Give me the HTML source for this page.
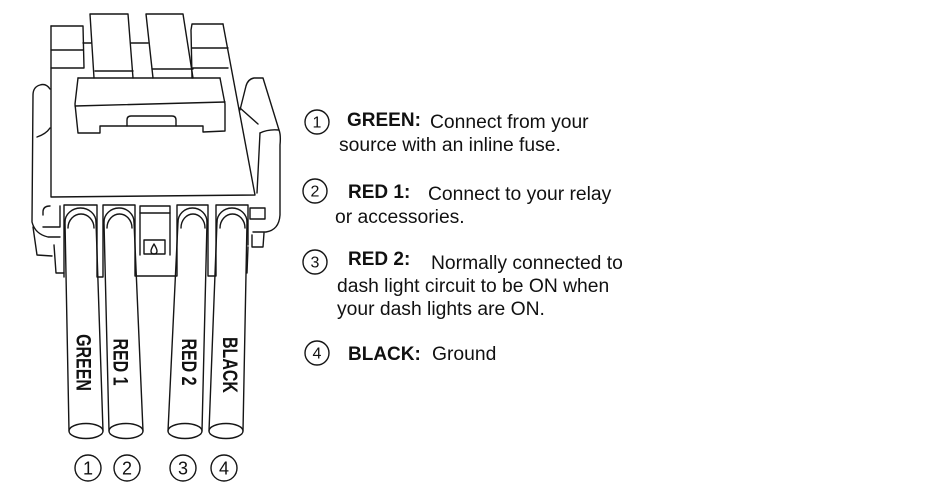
<!DOCTYPE html>
<html>
<head>
<meta charset="utf-8">
<style>
  html,body{margin:0;padding:0;background:#fff;}
  svg{display:block;}
  text{font-family:"Liberation Sans",Arial,sans-serif;fill:#111;}
  .b{font-weight:bold;}
</style>
</head>
<body>
<svg width="950" height="500" viewBox="0 0 950 500" xmlns="http://www.w3.org/2000/svg">
  <rect width="950" height="500" fill="#fff"/>
  <g fill="none" stroke="#151515" stroke-width="1.4" stroke-linejoin="round" stroke-linecap="round">
    <!-- left top box -->
    <path d="M51,26 L83,26 L84,68 L51,68"/>
    <path d="M51,50 L83,50"/>
    <path d="M83,43 L91,43"/>
    <!-- tab 1 -->
    <path d="M94,78 L90,14 L128,14 L133,78"/>
    <path d="M95,71 L133,71"/>
    <path d="M131,43 L148,43"/>
    <!-- tab 2 -->
    <path d="M153,78 L146,14 L183,14 L193,78"/>
    <path d="M152,69 L193,69"/>
    <!-- right top box -->
    <path d="M192,78 L191,30 L192,24 L223,24"/>
    <path d="M192,48 L228,48"/>
    <path d="M193,68 L228,68"/>
    <!-- body -->
    <path d="M51,26 L51,197 L255,195 L223,24"/>
    <!-- lid -->
    <path d="M78,78 L220,78"/>
    <path d="M78,78 L75,104 L78,133 L100,133 L100,126 L203,126 L203,132 L225,131 L225,104 L220,78"/>
    <path d="M75,106 L225,102"/>
    <path d="M127,126 L127,120 Q127,116 131,116 L172,116 Q176,116 176,120 L176,126"/>
    <!-- left bracket -->
    <path d="M50,89 Q46,83 40,85 Q33,87 33,95 L32,222 Q35,234 48,237 L60,237"/>
    <path d="M37,137 Q46,134 50,128"/>
    <path d="M33,227 L37,255 L52,256"/>
    <path d="M54,245 L56,273 L64,273"/>
    <path d="M50,206 Q43,206 43,212 L43,215"/>
    <path d="M43,227 L60,227 L60,206"/>
    <!-- right bracket -->
    <path d="M240,110 L246,86 Q248,79 254,78 L263,78 L279,130 Q281,135 280,145 L280,215 Q279,230 266,232 L253,232"/>
    <path d="M240,108 L258,124"/>
    <path d="M260,133 Q268,129 279,130"/>
    <path d="M260,133 L257,193"/>
    <rect x="250" y="208" width="15" height="11"/>
    <path d="M252,235 L252,247 L263,247 L264,233"/>
    <path d="M248,247 L247,273"/>
    <!-- slots -->
    <path d="M64,277 L64,205 L97,205 L97,277 L103,277 L103,205 L135,205 L135,276 L177,276 L177,205 L208,205 L208,276 L216,276 L216,205 L248,205 L248,245"/>
    <!-- middle slot -->
    <path d="M140,255 L140,206 L170,206 L170,255"/>
    <path d="M140,213 L170,213"/>
    <rect x="144" y="240" width="21" height="14"/>
    <path d="M154,244 Q151,249 151,251 Q151,254 154,254 Q157,254 157,251 Q157,249 154,244 Z"/>
    <!-- wire arches -->
    <path d="M65,222 A15.5,14 0 0 1 96,222"/>
    <path d="M68,228 A13,14 0 0 1 94,228"/>
    <path d="M104,222 A15,14 0 0 1 134,222"/>
    <path d="M107,228 A12.5,14 0 0 1 132,228"/>
    <path d="M178,222 A14.5,14 0 0 1 207,222"/>
    <path d="M181,228 A12,14 0 0 1 205,228"/>
    <path d="M217,222 A15,14 0 0 1 247,222"/>
    <path d="M220,228 A12.5,14 0 0 1 245,228"/>
    <!-- wires -->
    <path d="M65,222 L69,431"/>
    <path d="M96,222 L103,431"/>
    <path d="M104,222 L109,431"/>
    <path d="M134,222 L143,431"/>
    <path d="M178,222 L168,431"/>
    <path d="M207,222 L202,431"/>
    <path d="M217,222 L209,431"/>
    <path d="M247,222 L243,431"/>
    <ellipse cx="86" cy="431" rx="17" ry="7.5"/>
    <ellipse cx="126" cy="431" rx="17" ry="7.5"/>
    <ellipse cx="185" cy="431" rx="17" ry="7.5"/>
    <ellipse cx="226" cy="431" rx="17" ry="7.5"/>
    <!-- bottom circles -->
    <circle cx="88" cy="468" r="13"/>
    <circle cx="127" cy="468" r="13"/>
    <circle cx="183" cy="468" r="13"/>
    <circle cx="224" cy="468" r="13"/>
    <!-- right circles -->
    <circle cx="317" cy="122" r="12"/>
    <circle cx="315" cy="191" r="12"/>
    <circle cx="315" cy="262" r="12"/>
    <circle cx="317" cy="353" r="12"/>
  </g>

  <!-- wire labels -->
  <text class="b" font-size="16" text-anchor="middle" transform="translate(76.5,362.5) scale(1.35,1) rotate(90)">GREEN</text>
  <text class="b" font-size="16" text-anchor="middle" transform="translate(113.5,362) scale(1.35,1) rotate(90)">RED 1</text>
  <text class="b" font-size="16" text-anchor="middle" transform="translate(182,362) scale(1.35,1) rotate(90)">RED 2</text>
  <text class="b" font-size="16" text-anchor="middle" transform="translate(223,365) scale(1.35,1) rotate(90)">BLACK</text>

  <!-- bottom circle numbers -->
  <text font-size="18" text-anchor="middle" x="88" y="474.5">1</text>
  <text font-size="18" text-anchor="middle" x="127" y="474.5">2</text>
  <text font-size="18" text-anchor="middle" x="183" y="474.5">3</text>
  <text font-size="18" text-anchor="middle" x="224" y="474.5">4</text>

  <!-- right circle numbers -->
  <text font-size="16" text-anchor="middle" x="317" y="127.5">1</text>
  <text font-size="16" text-anchor="middle" x="315" y="196.5">2</text>
  <text font-size="16" text-anchor="middle" x="315" y="267.5">3</text>
  <text font-size="16" text-anchor="middle" x="317" y="358.5">4</text>

  <!-- descriptions -->
  <text class="b" font-size="19" x="347" y="126">GREEN:</text>
  <text font-size="19.3" x="430" y="128">Connect from your</text>
  <text font-size="19.3" x="339" y="151">source with an inline fuse.</text>

  <text class="b" font-size="19" x="348" y="198">RED 1:</text>
  <text font-size="19.3" x="428" y="200">Connect to your relay</text>
  <text font-size="19.3" x="335" y="223">or accessories.</text>

  <text class="b" font-size="19" x="348" y="265">RED 2:</text>
  <text font-size="19.3" x="431" y="269">Normally connected to</text>
  <text font-size="19.3" x="337" y="292">dash light circuit to be ON when</text>
  <text font-size="19.3" x="337" y="315">your dash lights are ON.</text>

  <text class="b" font-size="19" x="348" y="360">BLACK:</text>
  <text font-size="19.3" x="432" y="360">Ground</text>
</svg>
</body>
</html>
